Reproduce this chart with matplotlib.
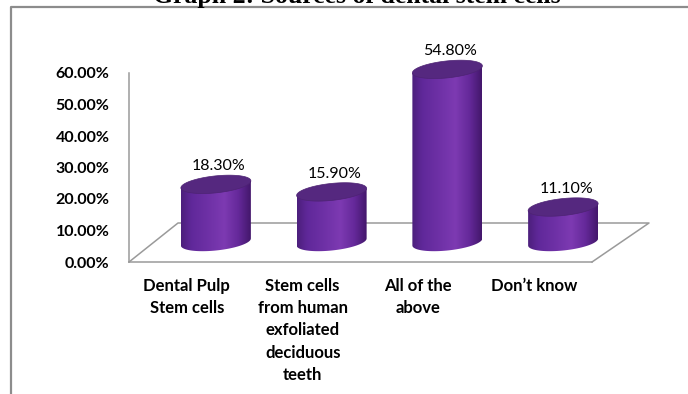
"""Graph 2: Sources of dental stem cells (3-D cylinder column look)."""

import numpy as np
import matplotlib
matplotlib.use("Agg")
import matplotlib.pyplot as plt
from matplotlib.colors import LinearSegmentedColormap
from matplotlib.patches import Polygon

categories = [
    "Dental Pulp\nStem cells",
    "Stem cells\nfrom human\nexfoliated\ndeciduous\nteeth",
    "All of the\nabove",
    "Don\u2019t know",
]
values = [18.3, 15.9, 54.8, 11.1]
yticks = [0, 10, 20, 30, 40, 50, 60]
title = "Graph 2: Sources of dental stem cells"

W, H, DPI = 688, 394, 100
AX_PX = (129, 132, 463, 189)  # left, bottom, width, height in pixels
GRID = "#9a9a9a"

plt.rcParams["font.family"] = ["Lato", "DejaVu Sans"]

fig = plt.figure(figsize=(W / DPI, H / DPI), dpi=DPI)
fig.patch.set_facecolor("white")
ax = fig.add_axes([AX_PX[0] / W, AX_PX[1] / H, AX_PX[2] / W, AX_PX[3] / H])
ax.set_facecolor("none")

xmin, xmax, ymax = -0.5, len(values) - 0.5, 60
ux = AX_PX[2] / (xmax - xmin)  # px per category
uy = AX_PX[3] / ymax           # px per percent

# floor (front edge = bottom spine, plus back edge and side edges)
bl = (xmin + 49 / ux, 39 / uy)
br = (xmax + 57 / ux, 39 / uy)
ax.plot([xmin, bl[0], br[0], xmax], [0, bl[1], br[1], 0],
        color=GRID, lw=1.1, clip_on=False, zorder=1)

cmap = LinearSegmentedColormap.from_list(
    "cyl", [(0.0, "#4c1f7c"), (0.15, "#60289a"), (0.45, "#7233a9"),
            (0.62, "#7d3ab2"), (0.82, "#65299a"), (1.0, "#43176b")])

dx, dy = 29 / ux, 20 / uy   # bars sit at mid depth
a, b, k = 35 / ux, 8.5 / uy, 3.5 / uy
t = np.linspace(0, 2 * np.pi, 100)
for i, v in enumerate(values):
    cx, base = i + dx, dy
    top = base + v
    tb = np.linspace(np.pi, 2 * np.pi, 50)
    body = np.column_stack([
        np.concatenate([cx + a * np.cos(tb), [cx + a, cx - a]]),
        np.concatenate([base + b * np.sin(tb) + k * np.cos(tb), [top + k, top - k]]),
    ])
    clip = Polygon(body, closed=True, facecolor="none", edgecolor="none", clip_on=False)
    ax.add_patch(clip)
    grad = cmap(np.linspace(0, 1, 256))[None, :, :3]
    im = ax.imshow(grad, extent=(cx - a, cx + a, base - b - k, top + k),
                   aspect="auto", interpolation="bilinear", zorder=3)
    im.set_clip_path(clip)
    im.set_clip_box(fig.bbox)
    cap = np.column_stack([cx + a * np.cos(t), top + b * np.sin(t) + k * np.cos(t)])
    ax.add_patch(Polygon(cap, closed=True, facecolor="#55287f",
                         edgecolor="#4d2373", lw=0.5, zorder=4, clip_on=False))
    ax.text(cx + 3 / ux, top + 18 / uy, f"{v:.2f}%", ha="center", va="center",
            fontsize=11.5, color="black", zorder=5)

ax.set_xlim(xmin, xmax)
ax.set_ylim(0, ymax)
ax.set_yticks(yticks)
ax.set_yticklabels([f"{y:.2f}%" for y in yticks], fontsize=11.5, fontweight="bold")
ax.set_xticks(range(len(categories)))
ax.set_xticklabels(categories, fontsize=12, fontweight="bold", linespacing=1.48)
ax.tick_params(axis="y", length=0, pad=14)
ax.tick_params(axis="x", length=0, pad=11.5)
for side in ("top", "right"):
    ax.spines[side].set_visible(False)
for side in ("left", "bottom"):
    ax.spines[side].set_color(GRID)
    ax.spines[side].set_linewidth(1.1)

# outer chart frame (partly cropped) and cut-off title
fig.add_artist(plt.Line2D([11 / W, 11 / W, 1.0], [0, 1 - 7 / H, 1 - 7 / H],
                          color="#8c8c8c", lw=1.6, transform=fig.transFigure))
fig.text(357 / W, 1 - 3 / H, title, ha="center", va="baseline",
         fontsize=18.5, fontweight="bold", family=["Liberation Serif", "DejaVu Serif"])

fig.savefig("out.png", dpi=DPI)
